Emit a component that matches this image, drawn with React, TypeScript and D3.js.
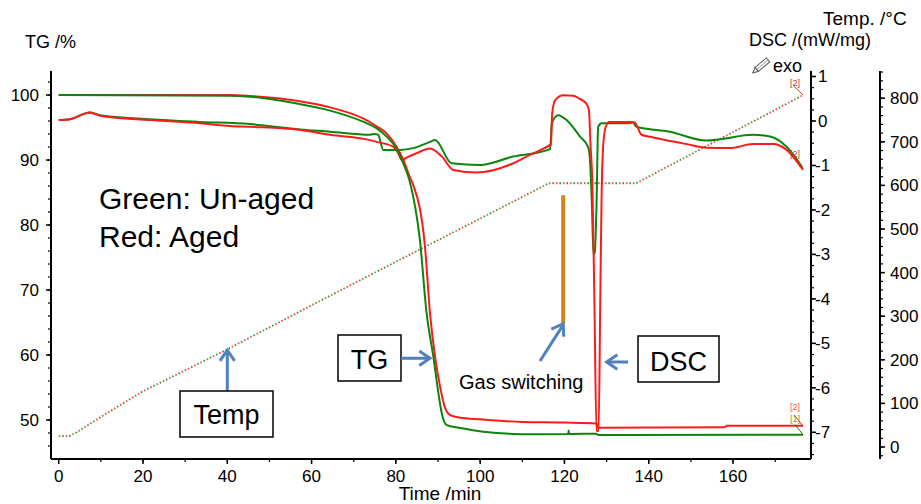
import React from 'react';
import * as d3 from 'd3';

// time /min vs TG /%
const tgAged = [
  [0, 100], [40.6, 100], [45.4, 99.85], [56.5, 99.12], [64.4, 98.1], [72.2, 96.4], [75.4, 95.2],
  [77.8, 94.1], [80.2, 92.0], [81.8, 90.0], [83.3, 87.4], [84.1, 86.2], [86.9, 76.7], [88.1, 66.4],
  [89.3, 59.7], [90.5, 55.1], [91.6, 52.0], [92.8, 50.8], [95, 50.4], [100, 50.1], [110, 49.7],
  [120, 49.6], [127.6, 49.45], [128.0, 48.8], [158, 48.9], [158.5, 49.1], [176.6, 49.1],
];
const tgUnaged = [
  [0, 100], [40.6, 99.9], [45.4, 99.75], [56.5, 98.7], [64.4, 97.6], [72.2, 95.9], [75.4, 94.9],
  [77.8, 93.6], [80.2, 91.7], [81.8, 89.4], [83.3, 86.7], [85.7, 77.7], [87.3, 66.4], [88.9, 59.7],
  [90.1, 54.1], [90.9, 51.0], [92.1, 49.2], [95, 48.8], [100.7, 48.2], [112.5, 47.8], [120.9, 47.85],
  [121, 48.4], [121.1, 47.85], [127.6, 47.9], [128, 47.7], [176.6, 47.75],
];

// time /min vs DSC /(mW/mg)
const dscAged = [
  [0, 0.02], [2.7, 0.04], [7.4, 0.19], [9.8, 0.12], [21.7, 0.02], [33.5, -0.05], [40.6, -0.11],
  [45.4, -0.13], [57.3, -0.2], [64.4, -0.31], [73.9, -0.43], [75.4, -0.47], [79.4, -0.58],
  [80.6, -0.73], [81.4, -0.88], [82.2, -0.84], [85, -0.72], [88.1, -0.62], [90.9, -0.8],
  [93.6, -1.1], [99.2, -1.16], [107.9, -0.95], [111.8, -0.76], [116.2, -0.56], [116.8, -0.52],
  [117.1, 0.18], [117.8, 0.47], [119.7, 0.58], [122.1, 0.57], [123.4, 0.51], [125.1, 0.4],
  [125.8, 0.25], [126.2, -0.58], [126.6, -1.33], [127.1, -4.0], [127.6, -6.97], [128.1, -6.97],
  [128.5, -4.0], [128.8, -1.78], [129.2, -0.54], [129.8, -0.13], [130.6, -0.02], [135.5, -0.02],
  [136.7, -0.04], [138.3, -0.31], [141.1, -0.37], [149, -0.52], [153.7, -0.6], [159.3, -0.61],
  [164.7, -0.52], [169.5, -0.52], [172.7, -0.65], [176.6, -1.1],
];
const dscUnaged = [
  [0, 0.02], [2.7, 0.04], [7.4, 0.19], [9.8, 0.13], [21.7, 0.04], [33.5, -0.02], [45.4, -0.07],
  [57.3, -0.19], [64.4, -0.24], [73.9, -0.31], [75, -0.29], [75.8, -0.31], [77, -0.65], [81, -0.65],
  [84.1, -0.61], [88.1, -0.47], [89.3, -0.43], [93.2, -0.95], [100, -0.99], [107.8, -0.8],
  [116.1, -0.65], [116.6, -0.63], [117, -0.05], [118.5, 0.13], [120.5, 0.02], [123.7, -0.35],
  [125.6, -0.58], [126, -0.8], [126.5, -1.84], [126.9, -3.0], [127.2, -2.95], [127.6, -1.93],
  [128, -0.13], [128.8, -0.05], [135.5, -0.05], [136.3, -0.02], [136.7, -0.09], [137.1, -0.13],
  [145, -0.24], [153.7, -0.44], [156.9, -0.41], [164.8, -0.31], [168.8, -0.35], [172.7, -0.58],
  [176.5, -1.05],
];

// time /min vs Temp. /°C
const tempProgram = [
  [0, 25], [2.5, 25], [4.3, 34], [10, 69], [20, 128], [40, 224], [60, 325], [76.2, 406],
  [100, 524], [116.3, 605], [137, 605], [176.6, 807],
];

const timeTicks = [0, 20, 40, 60, 80, 100, 120, 140, 160];
const tgTicks = [50, 60, 70, 80, 90, 100];
const dscTicks = [1, 0, -1, -2, -3, -4, -5, -6, -7];
const tempTicks = [0, 100, 200, 300, 400, 500, 600, 700, 800];

const RED = '#ff1a1a';
const GREEN = '#0b850b';
const BLUE = '#4f81bd';
const FONT = '"Liberation Sans", Arial, sans-serif';

export default function App() {
  const top = 71, bottom = 459;
  const x = d3.scaleLinear().domain([-1.83, 178.5]).range([51, 811]);
  const yTG = d3.scaleLinear().domain([44.0, 103.7]).range([bottom, top]);
  const yDSC = d3.scaleLinear().domain([-7.6, 1.124]).range([bottom, top]);
  const yT = d3.scaleLinear().domain([-27.5, 862.4]).range([bottom, top]);

  const lineTG = d3.line().x(d => x(d[0])).y(d => yTG(d[1])).curve(d3.curveMonotoneX);
  const lineDSC = d3.line().x(d => x(d[0])).y(d => yDSC(d[1])).curve(d3.curveMonotoneX);
  const lineT = d3.line().x(d => x(d[0])).y(d => yT(d[1]));

  const dscX = 811, tempX = 880;
  const minorTime = d3.range(10, 180, 10);
  const minorTG = d3.range(46, 104, 2);
  const minorDSC = d3.range(-7.5, 1.01, 0.25);
  const minorTemp = d3.range(-20, 861, 20);

  const endT = tgAged[tgAged.length - 1][0];
  const ex = x(endT);

  const chevron = (tx, ty, angle) => {
    // open arrow head pointing along angle (deg)
    const a = (angle * Math.PI) / 180, len = 13, spread = 0.6;
    const p1 = [tx - len * Math.cos(a - spread), ty - len * Math.sin(a - spread)];
    const p2 = [tx - len * Math.cos(a + spread), ty - len * Math.sin(a + spread)];
    return `M${p1[0]},${p1[1]}L${tx},${ty}L${p2[0]},${p2[1]}`;
  };

  const tempArrowX = x(40), tempArrowTip = yT(222);
  const tgArrowTip = [x(88.1), yTG(59.5)];
  const dscArrowTip = [x(130), 362];
  const gasX = x(119.7);
  const gasTop = yTG(84.6), gasBottom = yTG(64.8);

  return (
    <svg width={921} height={504} style={{ position: 'absolute', left: 0, top: 0, background: '#fff' }}
      fontFamily={FONT}>
      {/* titles */}
      <text x={25} y={48} fontSize={18}>TG /%</text>
      <text x={823} y={25} fontSize={19}>Temp. /°C</text>
      <text x={749} y={46} fontSize={18}>DSC /(mW/mg)</text>
      <g transform="translate(762,65) rotate(-40)">
        <rect x={-7} y={-2.6} width={15} height={5.2} fill="#fff" stroke="#555" strokeWidth={1} />
        <path d="M-7,-2.6L-12,0L-7,2.6Z" fill="#fff" stroke="#555" strokeWidth={1} />
        <line x1={-7} y1={0} x2={8} y2={0} stroke="#888" strokeWidth={0.8} />
      </g>
      <text x={773} y={72} fontSize={18}>exo</text>

      {/* temperature programme (dotted, two-colour) */}
      <path d={lineT(tempProgram)} fill="none" stroke="#ff4a4a" strokeWidth={1.8} strokeDasharray="1.6 5.4" />
      <path d={lineT(tempProgram)} fill="none" stroke="#2f972f" strokeWidth={1.8} strokeDasharray="1.6 5.4"
        strokeDashoffset={3.5} />

      {/* TG & DSC curves */}
      <path d={lineDSC(dscUnaged)} fill="none" stroke={GREEN} strokeWidth={2} />
      <path d={lineDSC(dscAged)} fill="none" stroke={RED} strokeWidth={2} />
      <path d={lineTG(tgAged)} fill="none" stroke={RED} strokeWidth={2} />
      <path d={lineTG(tgUnaged)} fill="none" stroke={GREEN} strokeWidth={2} />

      {/* segment end markers */}
      <line x1={ex} y1={yT(807)} x2={ex - 9} y2={yT(807) - 9} stroke="#c0392b" strokeWidth={1} />
      <text x={790} y={86} fontSize={9} fill="#b5412c">[2]</text>
      <text x={790} y={157} fontSize={9} fill="#b5412c">[2]</text>
      <line x1={ex} y1={yTG(49.1)} x2={ex - 9} y2={yTG(49.1) - 11} stroke={RED} strokeWidth={1} />
      <line x1={ex} y1={yTG(47.75)} x2={ex - 8} y2={yTG(47.75) - 10} stroke={GREEN} strokeWidth={1} />
      <text x={790} y={410} fontSize={9} fill="#ff5050">[2]</text>
      <text x={790} y={422} fontSize={9} fill="#4caf50">[1]</text>

      {/* left TG axis */}
      <line x1={51} y1={top} x2={51} y2={bottom} stroke="#000" strokeWidth={2} />
      {minorTG.map(v => (
        <line key={'mg' + v} x1={48} x2={51} y1={yTG(v)} y2={yTG(v)} stroke="#000" strokeWidth={1.2} />
      ))}
      {tgTicks.map(v => (
        <g key={'tg' + v}>
          <line x1={46} x2={51} y1={yTG(v)} y2={yTG(v)} stroke="#000" strokeWidth={1.5} />
          <text x={39} y={yTG(v)} dy="0.35em" fontSize={17} textAnchor="end">{v}</text>
        </g>
      ))}

      {/* bottom time axis */}
      <line x1={51} y1={bottom} x2={dscX} y2={bottom} stroke="#000" strokeWidth={2} />
      {minorTime.map(v => (
        <line key={'mt' + v} x1={x(v)} x2={x(v)} y1={bottom} y2={bottom + 3} stroke="#000" strokeWidth={1.2} />
      ))}
      {timeTicks.map(v => (
        <g key={'t' + v}>
          <line x1={x(v)} x2={x(v)} y1={bottom} y2={bottom + 5} stroke="#000" strokeWidth={1.5} />
          <text x={x(v)} y={482} fontSize={17} textAnchor="middle">{v}</text>
        </g>
      ))}
      <text x={440} y={500} fontSize={19} textAnchor="middle">Time /min</text>

      {/* DSC axis */}
      <line x1={dscX} y1={top} x2={dscX} y2={bottom} stroke="#000" strokeWidth={2} />
      {minorDSC.map(v => (
        <line key={'md' + v} x1={dscX} x2={dscX + 3} y1={yDSC(v)} y2={yDSC(v)} stroke="#000" strokeWidth={1.2} />
      ))}
      {dscTicks.map(v => (
        <g key={'d' + v}>
          <line x1={dscX} x2={dscX + 5} y1={yDSC(v)} y2={yDSC(v)} stroke="#000" strokeWidth={1.5} />
          <text x={v < 0 ? 815 : 818} y={yDSC(v)} dy="0.35em" fontSize={17}>{v}</text>
        </g>
      ))}

      {/* Temp axis */}
      <line x1={tempX} y1={top} x2={tempX} y2={bottom} stroke="#000" strokeWidth={2} />
      {minorTemp.map(v => (
        <line key={'mT' + v} x1={tempX} x2={tempX + 3} y1={yT(v)} y2={yT(v)} stroke="#000" strokeWidth={1.2} />
      ))}
      {tempTicks.map(v => (
        <g key={'T' + v}>
          <line x1={tempX} x2={tempX + 5} y1={yT(v)} y2={yT(v)} stroke="#000" strokeWidth={1.5} />
          <text x={890} y={yT(v)} dy="0.35em" fontSize={17}>{v}</text>
        </g>
      ))}

      {/* legend text */}
      <text x={99} y={209} fontSize={30}>Green: Un-aged</text>
      <text x={99} y={247} fontSize={30}>Red: Aged</text>

      {/* Temp annotation */}
      <line x1={tempArrowX} y1={391} x2={tempArrowX} y2={tempArrowTip + 1} stroke={BLUE} strokeWidth={3} />
      <path d={chevron(tempArrowX, tempArrowTip, -90)} fill="none" stroke={BLUE} strokeWidth={3} />
      <rect x={180} y={391} width={93} height={46} fill="#fff" stroke="#000" strokeWidth={1.5} />
      <text x={226.5} y={424} fontSize={27} textAnchor="middle">Temp</text>

      {/* TG annotation */}
      <rect x={338} y={335} width={63} height={46} fill="#fff" stroke="#000" strokeWidth={1.5} />
      <text x={369.5} y={369} fontSize={27} textAnchor="middle">TG</text>
      <line x1={401} y1={tgArrowTip[1]} x2={tgArrowTip[0] - 1} y2={tgArrowTip[1]} stroke={BLUE} strokeWidth={3} />
      <path d={chevron(tgArrowTip[0], tgArrowTip[1], 0)} fill="none" stroke={BLUE} strokeWidth={3} />

      {/* DSC annotation */}
      <rect x={638} y={336} width={81} height={46} fill="#fff" stroke="#000" strokeWidth={1.5} />
      <text x={678.5} y={371} fontSize={27} textAnchor="middle">DSC</text>
      <line x1={628} y1={dscArrowTip[1]} x2={dscArrowTip[0] + 1} y2={dscArrowTip[1]} stroke={BLUE} strokeWidth={3} />
      <path d={chevron(dscArrowTip[0], dscArrowTip[1], 180)} fill="none" stroke={BLUE} strokeWidth={3} />

      {/* gas switching */}
      <line x1={gasX} y1={gasTop} x2={gasX} y2={gasBottom} stroke="#d4831c" strokeWidth={4} />
      <line x1={540} y1={361} x2={gasX} y2={gasBottom + 1} stroke={BLUE} strokeWidth={3} />
      <path d={chevron(gasX, gasBottom, Math.atan2(gasBottom - 361, gasX - 540) * 180 / Math.PI)}
        fill="none" stroke={BLUE} strokeWidth={3} />
      <text x={459} y={389} fontSize={20}>Gas switching</text>
    </svg>
  );
}
